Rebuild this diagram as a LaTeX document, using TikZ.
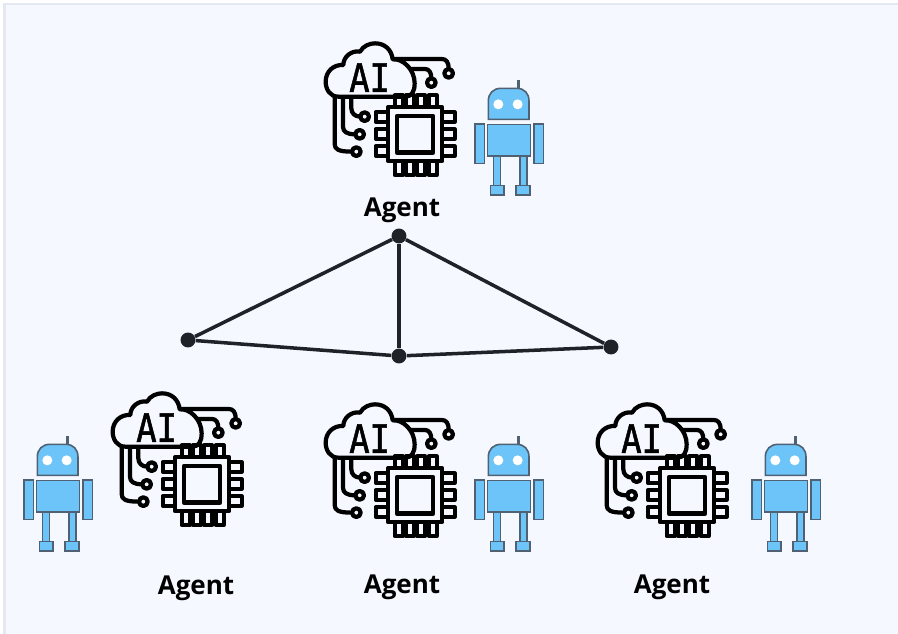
\documentclass[tikz,border=0pt]{standalone}
\usepackage{fontspec}
\setmainfont{Open Sans}
\newfontfamily\chipfont[RawFeature={embolden=1.5}]{DejaVu Sans Mono}
\definecolor{pagebg}{HTML}{F5F8FF}
\definecolor{pageedge}{HTML}{E4E8F0}
\definecolor{botfill}{HTML}{6CC4F8}
\definecolor{botline}{HTML}{4F6172}
\definecolor{netline}{HTML}{1F2328}
\tikzset{
  netdot/.style={circle,fill=netline,draw=none,minimum size=15*0.567pt,inner sep=0pt},
  netedge/.style={netline,line width=2pt},
  agentlabel/.style={font=\bfseries\fontsize{14.8}{16}\selectfont,text=black,inner sep=0pt},
  iconline/.style={black,line width=2.4pt,line join=round},
  botpart/.style={draw=botline,fill=botfill,line width=0.9pt},
  pics/aichip/.style={code={
    \begin{scope}[scale=0.3333]
    % Wires
    \draw[iconline] (124,200)--(124,235) .. controls (124,250) and (135,260) .. (151,260);
    \draw[iconline] (99,200)--(99,290) .. controls (99,305) and (110,313) .. (136,313);
    \draw[iconline] (74,200)--(74,342) .. controls (74,358) and (85,365) .. (126,365);
    \draw[iconline] (240,87)--(395,87) .. controls (408,87) and (416,95) .. (416,117);
    \draw[iconline] (280,117)--(345,117) .. controls (358,117) and (364,128) .. (364,145);
    % Wire ends
    \draw[iconline] (164,260) circle (13);
    \draw[iconline] (149,313) circle (13);
    \draw[iconline] (139,365) circle (13);
    \draw[iconline] (416,130) circle (13);
    \draw[iconline] (364,158) circle (13);
    % Cloud
    \draw[iconline,fill=pagebg] (85,200) .. controls (60,200) and (47,178) .. (47,155)
      .. controls (47,125) and (70,103) .. (100,105)
      .. controls (100,80) and (125,60) .. (150,65)
      .. controls (160,47) and (180,40) .. (195,40)
      .. controls (225,40) and (245,60) .. (248,88)
      .. controls (280,85) and (314,120) .. (314,160)
      .. controls (314,185) and (305,200) .. (285,200) -- cycle;
    \node[font=\chipfont\fontsize{21}{21}\selectfont,inner sep=0pt,xscale=0.92,yscale=1.06] (-ai) at (179,143) {AI};
    % Pins
    \foreach \py in {247,298,349} {
      \draw[iconline] (197,\py) rectangle (234,\py+28);
      \draw[iconline] (397,\py) rectangle (434,\py+28);
    }
    \foreach \px in {254,288,322,356} {
      \draw[iconline] (\px,196) rectangle (\px+24,232);
      \draw[iconline] (\px,393) rectangle (\px+24,435);
    }
    % Chip
    \draw[iconline,fill=pagebg] (234,232) rectangle (397,393);
    \draw[iconline,line width=2.6pt] (261,258) rectangle (369,368);
    \end{scope}
  }},
  pics/robot/.style={code={
    \begin{scope}[scale=0.3333]
    \draw[botline,line width=1.6pt] (160,15)--(160,42);
    % Arms and legs
    \draw[botpart] (30,147) rectangle (58,265);
    \draw[botpart] (207,147) rectangle (235,265);
    \draw[botpart] (85,243) rectangle (106,332);
    \draw[botpart] (165,243) rectangle (186,332);
    \draw[botpart] (76,332) rectangle (117,360);
    \draw[botpart] (153,332) rectangle (195,360);
    % Head and body
    \draw[botpart] (70,133)--(70,78) .. controls (70,55) and (85,40) .. (108,40)
      -- (155,40) .. controls (178,40) and (192,55) .. (192,78) -- (192,133) -- cycle;
    \draw[botpart] (67,148) rectangle (197,243);
    \fill[white] (100,88) circle (15);
    \fill[white] (158,88) circle (15);
    \end{scope}
  }}
}
\begin{document}
\begin{tikzpicture}[x=0.02cm,y=-0.02cm]
\useasboundingbox (0,0) rectangle (898,634);
% Page
\fill[white] (0,0) rectangle (898,634);
\fill[pageedge] (3,3) rectangle (898,634);
\fill[pagebg] (5.5,5.5) rectangle (898,634);
% Icons
\pic (chipTop) at (310,30) {aichip};
\pic (chipLeft) at (97,380) {aichip};
\pic (chipMid) at (310,391) {aichip};
\pic (chipRight) at (582,391) {aichip};
% Robots
\pic at (465,75) {robot};
\pic at (14,431) {robot};
\pic at (465,431) {robot};
\pic at (742,431) {robot};
% Agent labels
\node[agentlabel] (agentTop) at (402,210.5) {Agent};
\node[agentlabel] (agentLeft) at (196,588.5) {Agent};
\node[agentlabel] (agentMid) at (402,587.5) {Agent};
\node[agentlabel] (agentRight) at (672,587.5) {Agent};
% Dots
\node[netdot] (netTop) at (399,236) {};
\node[netdot] (netLeft) at (188,340) {};
\node[netdot] (netMid) at (399,356) {};
\node[netdot] (netRight) at (611,347) {};
% Links
\draw[netedge] (netTop)--(netLeft);
\draw[netedge] (netTop)--(netMid);
\draw[netedge] (netTop)--(netRight);
\draw[netedge] (netLeft)--(netMid);
\draw[netedge] (netMid)--(netRight);
\end{tikzpicture}
\end{document}
